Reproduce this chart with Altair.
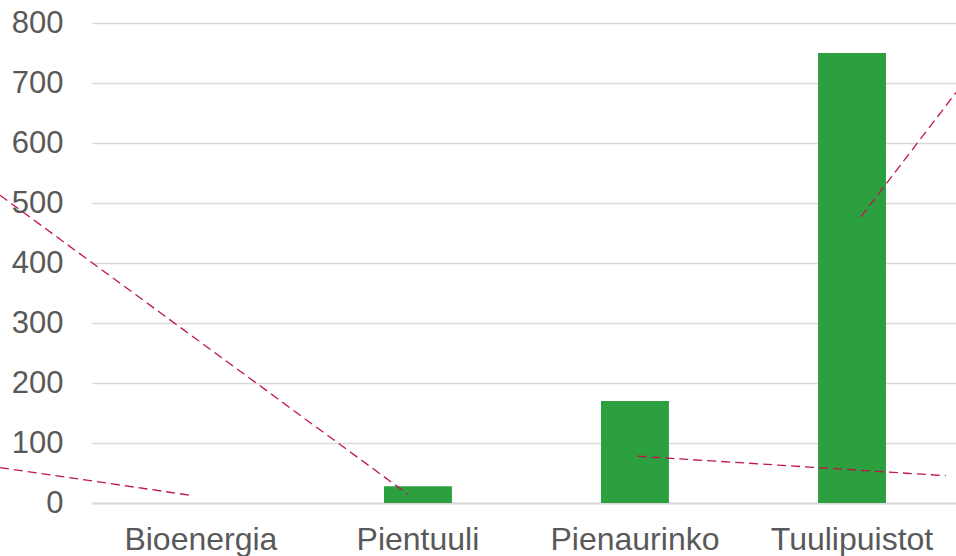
import altair as alt
import pandas as pd

# Installed capacity by source
categories = ["Bioenergia", "Pientuuli", "Pienaurinko", "Tuulipuistot"]
values = [0, 28, 170, 750]

# Dashed leader lines (x in category-index units, y in value units)
lead_x1 = [-0.926, -0.926, 2.011, 3.041]
lead_x2 = [-0.05, 0.954, 3.432, 3.479]
lead_y1 = [59, 513, 78, 477]
lead_y2 = [13, 14.5, 45.5, 684]

y_ticks = [0, 100, 200, 300, 400, 500, 600, 700, 800]

FONT = "Liberation Sans"
TEXT = "#595959"
GRID = "#d9d9d9"

bars_df = pd.DataFrame({"category": categories, "value": values})
lead_df = pd.DataFrame({"x1": lead_x1, "x2": lead_x2, "y1": lead_y1, "y2": lead_y2})

y_scale = alt.Scale(domain=[0, 800], nice=False)

bars = alt.Chart(bars_df).mark_bar(color="#2ca03f").encode(
    x=alt.X(
        "category:N",
        sort=categories,
        scale=alt.Scale(paddingInner=0.687, paddingOuter=0.334, align=0.517),
        axis=alt.Axis(
            title=None,
            labelAngle=0,
            labelFont=FONT,
            labelFontSize=32,
            labelColor=TEXT,
            labelPadding=21,
            ticks=False,
            domain=True,
            domainColor=GRID,
            domainWidth=2,
            grid=False,
        ),
    ),
    y=alt.Y(
        "value:Q",
        scale=y_scale,
        axis=alt.Axis(
            title=None,
            values=y_ticks,
            labelFont=FONT,
            labelFontSize=31,
            labelColor=TEXT,
            labelPadding=29,
            ticks=False,
            domain=False,
            grid=True,
            gridColor=GRID,
            gridWidth=1.3,
        ),
    ),
)

leaders = alt.Chart(lead_df).mark_rule(
    color="#c0134f", strokeWidth=1.3, strokeDash=[9, 5]
).encode(
    x=alt.X("x1:Q", scale=alt.Scale(domain=[-0.502, 3.479], nice=False, zero=False), axis=None),
    x2="x2:Q",
    y=alt.Y("y1:Q", scale=y_scale),
    y2="y2:Q",
)

chart = (
    alt.layer(bars, leaders)
    .resolve_scale(x="independent")
    .properties(
        width=864,
        height=480,
        autosize=alt.AutoSizeParams(type="none"),
        padding={"left": 92, "top": 23, "right": 0, "bottom": 53},
        background="white",
    )
    .configure_view(stroke=None)
)

chart.save("out.html", embed_options={"renderer": "svg", "actions": False})
